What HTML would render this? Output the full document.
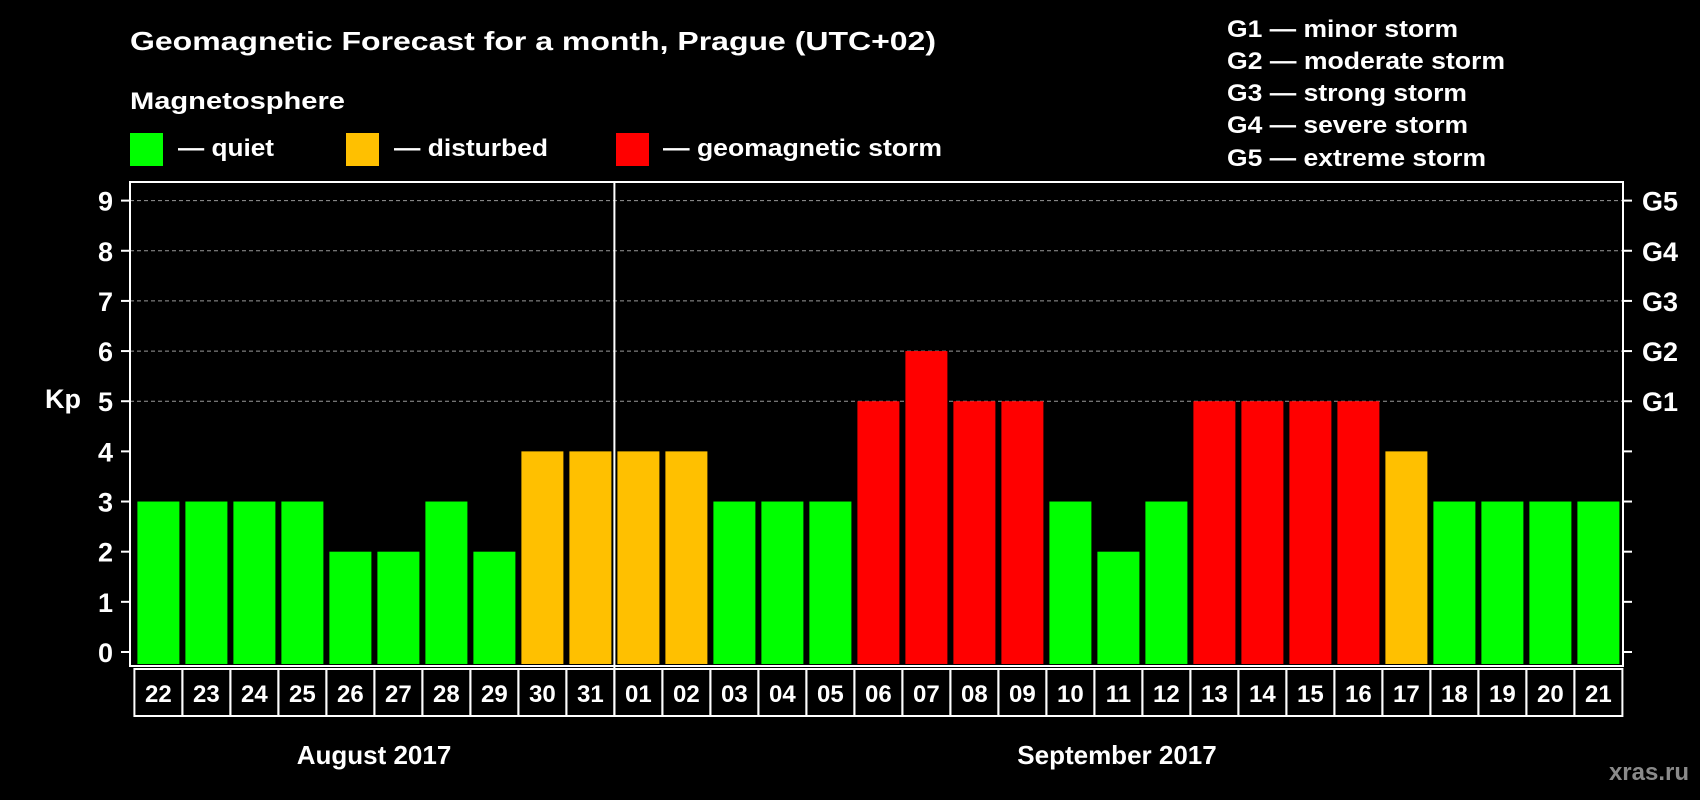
<!DOCTYPE html>
<html><head><meta charset="utf-8"><style>
html,body{margin:0;padding:0;background:#000;}
svg{display:block;font-family:"Liberation Sans",Arial,sans-serif;font-weight:bold;}
</style></head><body>
<svg id="chart" width="1700" height="800" viewBox="0 0 1700 800" xmlns="http://www.w3.org/2000/svg">
<rect width="1700" height="800" fill="#000"/>
<text x="130" y="50" fill="#fff" font-size="26" textLength="806" lengthAdjust="spacingAndGlyphs">Geomagnetic Forecast for a month, Prague (UTC+02)</text>
<text x="130" y="109" fill="#fff" font-size="24" textLength="215" lengthAdjust="spacingAndGlyphs">Magnetosphere</text>
<g>
<rect x="130" y="133" width="33" height="33" fill="#00ff00"/>
<text x="178" y="156" fill="#fff" font-size="24" textLength="96" lengthAdjust="spacingAndGlyphs">— quiet</text></g>
<g>
<rect x="346" y="133" width="33" height="33" fill="#ffc000"/>
<text x="394" y="156" fill="#fff" font-size="24" textLength="154" lengthAdjust="spacingAndGlyphs">— disturbed</text></g>
<g>
<rect x="616" y="133" width="33" height="33" fill="#ff0000"/>
<text x="663" y="156" fill="#fff" font-size="24" textLength="279" lengthAdjust="spacingAndGlyphs">— geomagnetic storm</text></g>
<g fill="#fff" font-size="24">
<text x="1227" y="37" textLength="231" lengthAdjust="spacingAndGlyphs">G1 — minor storm</text>
<text x="1227" y="69" textLength="278" lengthAdjust="spacingAndGlyphs">G2 — moderate storm</text>
<text x="1227" y="101" textLength="240" lengthAdjust="spacingAndGlyphs">G3 — strong storm</text>
<text x="1227" y="133" textLength="241" lengthAdjust="spacingAndGlyphs">G4 — severe storm</text>
<text x="1227" y="166" textLength="259" lengthAdjust="spacingAndGlyphs">G5 — extreme storm</text>
</g>
<text x="63" y="408" fill="#fff" font-size="27" text-anchor="middle">Kp</text>
<text x="374" y="764" fill="#fff" font-size="26" text-anchor="middle">August 2017</text>
<text x="1117" y="764" fill="#fff" font-size="26" text-anchor="middle">September 2017</text>
<text x="1689" y="780" fill="#8a8a8a" font-size="24" text-anchor="end">xras.ru</text>
<g id="plot"></g>
</svg>
<script>
const days = ["22","23","24","25","26","27","28","29","30","31","01","02","03","04","05","06","07","08","09","10","11","12","13","14","15","16","17","18","19","20","21"];
const kpValues = [3,3,3,3,2,2,3,2,4,4,4,4,3,3,3,5,6,5,5,3,2,3,5,5,5,5,4,3,3,3,3];
const yTicks = [0,1,2,3,4,5,6,7,8,9];
const gLabels = ["G1","G2","G3","G4","G5"];
const gLevels = [5,6,7,8,9];
const monthBreakIndex = 10;

const NS = "http://www.w3.org/2000/svg";
const plot = document.getElementById("plot");
const PL = 130, PR = 1623, PT = 182, PB = 666;
const boxL = 134.4, boxT = 669, boxB = 716;
const pitch = (1622.4 - boxL) / days.length;
const barW = 42;
function y(v){ return 652 - v * (652 - 200.6) / 9; }
function xc(i){ return boxL + pitch * (i + 0.5); }
function color(v){ return v >= 5 ? "#ff0000" : (v >= 4 ? "#ffc000" : "#00ff00"); }
function mk(tag, attrs){ const e = document.createElementNS(NS, tag); for (const k in attrs) e.setAttribute(k, attrs[k]); plot.appendChild(e); return e; }

// gridlines
gLevels.forEach(v => {
  const l = mk("line", {x1: PL, x2: PR, y1: y(v), y2: y(v), stroke: "#999", "stroke-width": 1, "stroke-dasharray": "4,3"});
  
  
});
// bars
kpValues.forEach((v, i) => {
  const r = mk("rect", {x: xc(i) - barW / 2, y: y(v), width: barW, height: PB - 2 - y(v), fill: color(v)});
  
  
});
// plot frame
const fr = mk("rect", {x: PL, y: PT, width: PR - PL, height: PB - PT, fill: "none", stroke: "#fff", "stroke-width": 2});


// y ticks
yTicks.forEach(v => {
  const t = mk("line", {x1: PL - 9, x2: PL, y1: y(v), y2: y(v), stroke: "#fff", "stroke-width": 2});
  
  
  const t2 = mk("line", {x1: PR, x2: PR + 9, y1: y(v), y2: y(v), stroke: "#fff", "stroke-width": 2});
  
  
  const tx = mk("text", {x: 113, y: y(v) + 10, fill: "#fff", "font-size": 27, "text-anchor": "end"});
  tx.textContent = v;
  
  
});
gLabels.forEach((g, i) => {
  const tx = mk("text", {x: 1642, y: y(gLevels[i]) + 10, fill: "#fff", "font-size": 27});
  tx.textContent = g;
  
  
});
// day label boxes
days.forEach((d, i) => {
  const bx = mk("rect", {x: boxL + pitch * i, y: boxT, width: pitch, height: boxB - boxT, fill: "none", stroke: "#fff", "stroke-width": 2});
  
  
  const tx = mk("text", {x: xc(i), y: 702, fill: "#fff", "font-size": 24, "text-anchor": "middle"});
  tx.textContent = d;
  
  
});
// month separator
const sx = boxL + pitch * monthBreakIndex;
const sep = mk("line", {x1: sx, x2: sx, y1: PT, y2: boxB, stroke: "#fff", "stroke-width": 2});


</script>
</body></html>
